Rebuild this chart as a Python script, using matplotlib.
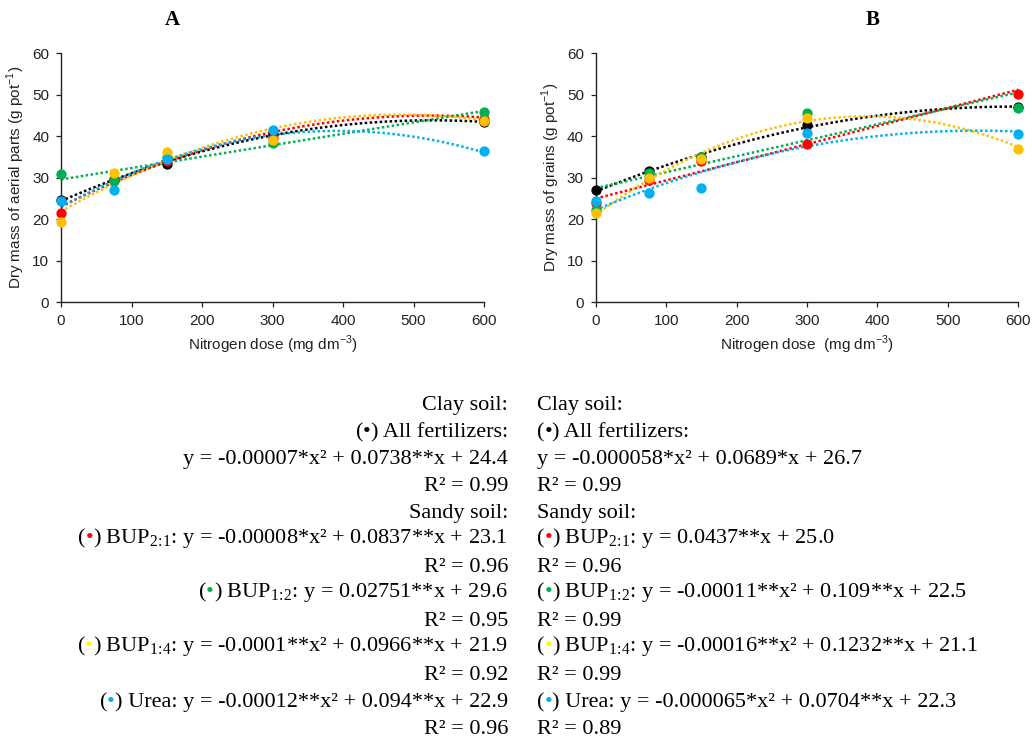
import numpy as np
import matplotlib
matplotlib.use("Agg")
import matplotlib.pyplot as plt
from matplotlib.offsetbox import TextArea, HPacker, AnnotationBbox

plt.rcParams['font.family'] = ['Liberation Sans', 'DejaVu Sans']
plt.rcParams['mathtext.fontset'] = 'custom'
plt.rcParams['mathtext.rm'] = 'Liberation Serif'

# ---------------- data ----------------
doses = [0, 75, 150, 300, 600]
colors = ["#000000", "#FF0000", "#00B050", "#FFC000", "#00B0F0"]
bullet_colors = ["#000000", "#FF0000", "#00B050", "#FFFF00", "#00B0F0"]

# A: dry mass of aerial parts (black, BUP2:1, BUP1:2, BUP1:4, urea)
aerial_all = [24.7, 29.5, 33.3, 40.5, 43.5]
aerial_bup21 = [21.4, 29.6, 34.1, 39.5, 44.2]
aerial_bup12 = [30.8, 29.3, 35.1, 38.3, 45.9]
aerial_bup14 = [19.3, 31.2, 36.2, 39.0, 43.7]
aerial_urea = [24.3, 27.0, 34.5, 41.5, 36.5]

# B: dry mass of grains
grain_all = [27.1, 31.7, 35.1, 42.7, 47.0]
grain_bup21 = [24.0, 29.5, 34.0, 38.2, 50.3]
grain_bup12 = [22.3, 31.1, 35.0, 45.5, 46.9]
grain_bup14 = [21.4, 29.9, 34.6, 44.3, 36.9]
grain_urea = [24.3, 26.3, 27.6, 40.8, 40.6]

# trend line coefficients [x^2, x, c]
fit_aerial = [[-0.00007, 0.0738, 24.4],
              [-0.00008, 0.0837, 23.1],
              [0.0, 0.02751, 29.6],
              [-0.0001, 0.0966, 21.9],
              [-0.00012, 0.094, 22.9]]
fit_grain = [[-0.000058, 0.0689, 26.7],
             [0.0, 0.0437, 25.0],
             [0.0, 0.0385, 27.5],
             [-0.00016, 0.1232, 21.1],
             [-0.000065, 0.0704, 22.3]]

x_ticks = [0, 100, 200, 300, 400, 500, 600]
y_ticks = [0, 10, 20, 30, 40, 50, 60]

# subscripts (negative spaces cancel mathtext's spacing round ':')
SUB21 = r"$_{2\!:\!1}$"
SUB12 = r"$_{1\!:\!2}$"
SUB14 = r"$_{1\!:\!4}$"

# equation text: (bullet colour index or None, text)
left_rows = [(None, "Clay soil:"),
             (0, ") All fertilizers:"),
             (None, "y = -0.00007*x² + 0.0738**x + 24.4"),
             (None, "R² = 0.99"),
             (None, "Sandy soil:"),
             (1, ") BUP" + SUB21 + ": y = -0.00008*x² + 0.0837**x + 23.1"),
             (None, "R² = 0.96"),
             (2, ") BUP" + SUB12 + ": y = 0.02751**x + 29.6"),
             (None, "R² = 0.95"),
             (3, ") BUP" + SUB14 + ": y = -0.0001**x² + 0.0966**x + 21.9"),
             (None, "R² = 0.92"),
             (4, ") Urea: y = -0.00012**x² + 0.094**x + 22.9"),
             (None, "R² = 0.96")]
right_rows = [(None, "Clay soil:"),
              (0, ") All fertilizers:"),
              (None, "y = -0.000058*x² + 0.0689*x + 26.7"),
              (None, "R² = 0.99"),
              (None, "Sandy soil:"),
              (1, ") BUP" + SUB21 + ": y = 0.0437**x + 25.0"),
              (None, "R² = 0.96"),
              (2, ") BUP" + SUB12 + ": y = -0.00011**x² + 0.109**x + 22.5"),
              (None, "R² = 0.99"),
              (3, ") BUP" + SUB14 + ": y = -0.00016**x² + 0.1232**x + 21.1"),
              (None, "R² = 0.99"),
              (4, ") Urea: y = -0.000065*x² + 0.0704**x + 22.3"),
              (None, "R² = 0.89")]

W, H = 1032, 738
fig = plt.figure(figsize=(W / 100, H / 100), dpi=100)


def draw_panel(rect, series, fits, ylabel, xlabel, title, title_x):
    ax = fig.add_axes(rect)
    xs = np.linspace(0, 600, 300)
    for coef, c in zip(fits, colors):
        ax.plot(xs, np.polyval(coef, xs), color=c, lw=1.8,
                ls=(0, (1, 1)), zorder=2, clip_on=False)
    for ys, c in zip(series, colors):
        ax.plot(doses, ys, 'o', color=c, ms=6.4, zorder=3, clip_on=False)
    ax.set_xlim(0, 600)
    ax.set_ylim(0, 60)
    ax.set_xticks(x_ticks)
    ax.set_yticks(y_ticks)
    for s in ['top', 'right']:
        ax.spines[s].set_visible(False)
    for s in ['left', 'bottom']:
        ax.spines[s].set_color('#222222')
        ax.spines[s].set_linewidth(1.0)
    ax.tick_params(direction='out', length=3.5, width=0.9, labelsize=11,
                   pad=5, colors='#222222')
    ax.set_ylabel(ylabel, fontsize=11, color='#222222')
    ax.yaxis.set_label_coords(-0.080, 0.5)
    ax.set_xlabel(xlabel, fontsize=11, color='#222222')
    ax.xaxis.set_label_coords(0.5, -0.125)
    fig.text(title_x, 1 - 20 / H, title, ha='center', va='center',
             fontsize=15, fontweight='bold', family='Liberation Serif')
    return ax


axA = draw_panel([61 / W, 1 - 302.3 / H, 423 / W, 249 / H],
                 [aerial_all, aerial_bup21, aerial_bup12, aerial_bup14, aerial_urea],
                 fit_aerial, r"Dry mass of aerial parts (g pot$^{\mathregular{-1}}$)",
                 r"Nitrogen dose (mg dm$^{\mathregular{-3}}$)", "A", 172 / W)
axB = draw_panel([595.7 / W, 1 - 302.3 / H, 422.6 / W, 249 / H],
                 [grain_all, grain_bup21, grain_bup12, grain_bup14, grain_urea],
                 fit_grain, r"Dry mass of grains (g pot$^{\mathregular{-1}}$)",
                 r"Nitrogen dose  (mg dm$^{\mathregular{-3}}$)", "B", 873 / W)

# ---------------- equation text block ----------------
txt_ax = fig.add_axes([0, 0, 1, 1], zorder=-1)
txt_ax.axis('off')
tp = dict(fontsize=16, family='Liberation Serif', color='black')


def text_row(row, x, y, align):
    idx, body = row
    if idx is None:
        parts = [TextArea(body, textprops=tp)]
    else:
        parts = [TextArea("(", textprops=tp),
                 TextArea("•", textprops=dict(tp, color=bullet_colors[idx])),
                 TextArea(body, textprops=tp)]
    box = HPacker(children=parts, align='baseline', pad=0, sep=0)
    ab = AnnotationBbox(box, (x, y), xycoords='figure fraction',
                        box_alignment=(align, 0.0), frameon=False, pad=0,
                        annotation_clip=False)
    txt_ax.add_artist(ab)


for i, (lrow, rrow) in enumerate(zip(left_rows, right_rows)):
    y = 1 - (415 + 27 * i) / H
    text_row(lrow, 508 / W, y, 1.0)
    text_row(rrow, 537 / W, y, 0.0)

fig.savefig("out.png", dpi=100)
